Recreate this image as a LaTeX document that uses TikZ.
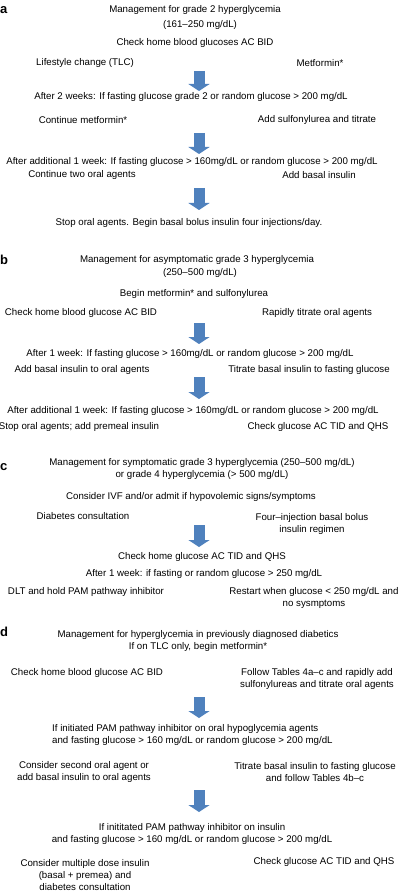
\documentclass[tikz,border=0pt]{standalone}
\usepackage{fontspec}
\setmainfont{Liberation Sans}
\usetikzlibrary{arrows.meta}
\definecolor{flowblue}{RGB}{79,129,189}

\begin{document}
\begin{tikzpicture}[x=1pt,y=1pt,
  txt/.style={font=\fontsize{9.7}{12}\selectfont, inner sep=0pt, align=center},
  panel/.style={font=\fontsize{13}{13}\selectfont\bfseries, inner sep=0pt, anchor=west},
  flow/.style={line width=11pt, flowblue, -{Triangle[width=21pt,length=7pt]}}]
  \useasboundingbox (0,0) rectangle (402,-893);

  % panel a
  \node[panel] (la) at (0,-10) {a};
  \node[txt] (a0) at (195,-10) {Management for grade 2 hyperglycemia};
  \node[txt] (a0b) at (200,-25) {(161--250 mg/dL)};
  \node[txt] (a1) at (195,-43) {Check home blood glucoses AC BID};
  \node[txt] (a1l) at (85,-63) {Lifestyle change (TLC)};
  \node[txt] (a1r) at (320,-63) {Metformin*};
  \node[txt] (a2) at (191,-97) {After 2 weeks: If fasting glucose grade 2 or random glucose > 200 mg/dL};
  \node[txt] (a2l) at (83,-120) {Continue metformin*};
  \node[txt] (a2r) at (317,-120) {Add sulfonylurea and titrate};
  \node[txt] (a3) at (192,-162) {After additional 1 week: If fasting glucose > 160mg/dL or random glucose > 200 mg/dL};
  \node[txt] (a3l) at (82,-175) {Continue two oral agents};
  \node[txt] (a3r) at (319,-175) {Add basal insulin};
  \node[txt] (a4) at (189,-223) {Stop oral agents. Begin basal bolus insulin four injections/day.};

  % panel b
  \node[panel] (lb) at (0,-260) {b};
  \node[txt] (b0) at (197,-260) {Management for asymptomatic grade 3 hyperglycemia};
  \node[txt] (b0b) at (200,-273) {(250--500 mg/dL)};
  \node[txt] (b1) at (194,-294) {Begin metformin* and sulfonylurea};
  \node[txt] (b1l) at (81,-313) {Check home blood glucose AC BID};
  \node[txt] (b1r) at (317,-313) {Rapidly titrate oral agents};
  \node[txt] (b2) at (190,-354) {After 1 week: If fasting glucose > 160mg/dL or random glucose > 200 mg/dL};
  \node[txt] (b2l) at (82,-370) {Add basal insulin to oral agents};
  \node[txt] (b2r) at (309,-370) {Titrate basal insulin to fasting glucose};
  \node[txt] (b3) at (193,-411) {After additional 1 week: If fasting glucose > 160mg/dL or random glucose > 200 mg/dL};
  \node[txt] (b3l) at (79,-427) {Stop oral agents; add premeal insulin};
  \node[txt] (b3r) at (318,-427) {Check glucose AC TID and QHS};

  % panel c
  \node[panel] (lc) at (0,-467) {c};
  \node[txt] (c0) at (202,-469) {Management for symptomatic grade 3 hyperglycemia (250--500 mg/dL)\\or grade 4 hyperglycemia (> 500 mg/dL)};
  \node[txt] (c1) at (191,-497) {Consider IVF and/or admit if hypovolemic signs/symptoms};
  \node[txt] (c1l) at (83,-516) {Diabetes consultation};
  \node[txt] (c1r) at (312,-524) {Four--injection basal bolus\\insulin regimen};
  \node[txt] (c2) at (202,-557) {Check home glucose AC TID and QHS};
  \node[txt] (c3) at (204,-574) {After 1 week: if fasting or random glucose > 250 mg/dL};
  \node[txt] (c3l) at (86,-592) {DLT and hold PAM pathway inhibitor};
  \node[txt] (c3r) at (314,-598) {Restart when glucose < 250 mg/dL and\\no sysmptoms};

  % panel d
  \node[panel] (ld) at (0,-632) {d};
  \node[txt] (d0) at (198,-641) {Management for hyperglycemia in previously diagnosed diabetics\\If on TLC only, begin metformin*};
  \node[txt] (d1l) at (87,-673) {Check home blood glucose AC BID};
  \node[txt] (d1r) at (317,-679) {Follow Tables 4a--c and rapidly add\\sulfonylureas and titrate oral agents};
  \node[txt, align=left, anchor=west] (d2) at (52,-735) {If initiated PAM pathway inhibitor on oral hypoglycemia agents\\and fasting glucose > 160 mg/dL or random glucose > 200 mg/dL};
  \node[txt] (d2l) at (84,-772) {Consider second oral agent or\\add basal insulin to oral agents};
  \node[txt] (d2r) at (315,-772) {Titrate basal insulin to fasting glucose\\and follow Tables 4b--c};
  \node[txt] (d3) at (192,-834) {If inititated PAM pathway inhibitor on insulin\\and fasting glucose > 160 mg/dL or random glucose > 200 mg/dL};
  \node[txt] (d3l) at (85,-875) {Consider multiple dose insulin\\(basal + premea) and\\diabetes consultation};
  \node[txt] (d3r) at (324,-862) {Check glucose AC TID and QHS};

  % block arrows
  \foreach \t/\b [count=\i] in {71/91,133/154,188/210,323/344,377/399,525/547,697/718,790/812} {
    \coordinate (s\i) at (199,-\t);
    \coordinate (e\i) at (199,-\b);
    \draw[flow] (s\i) -- (e\i);
  }
\end{tikzpicture}
\end{document}
